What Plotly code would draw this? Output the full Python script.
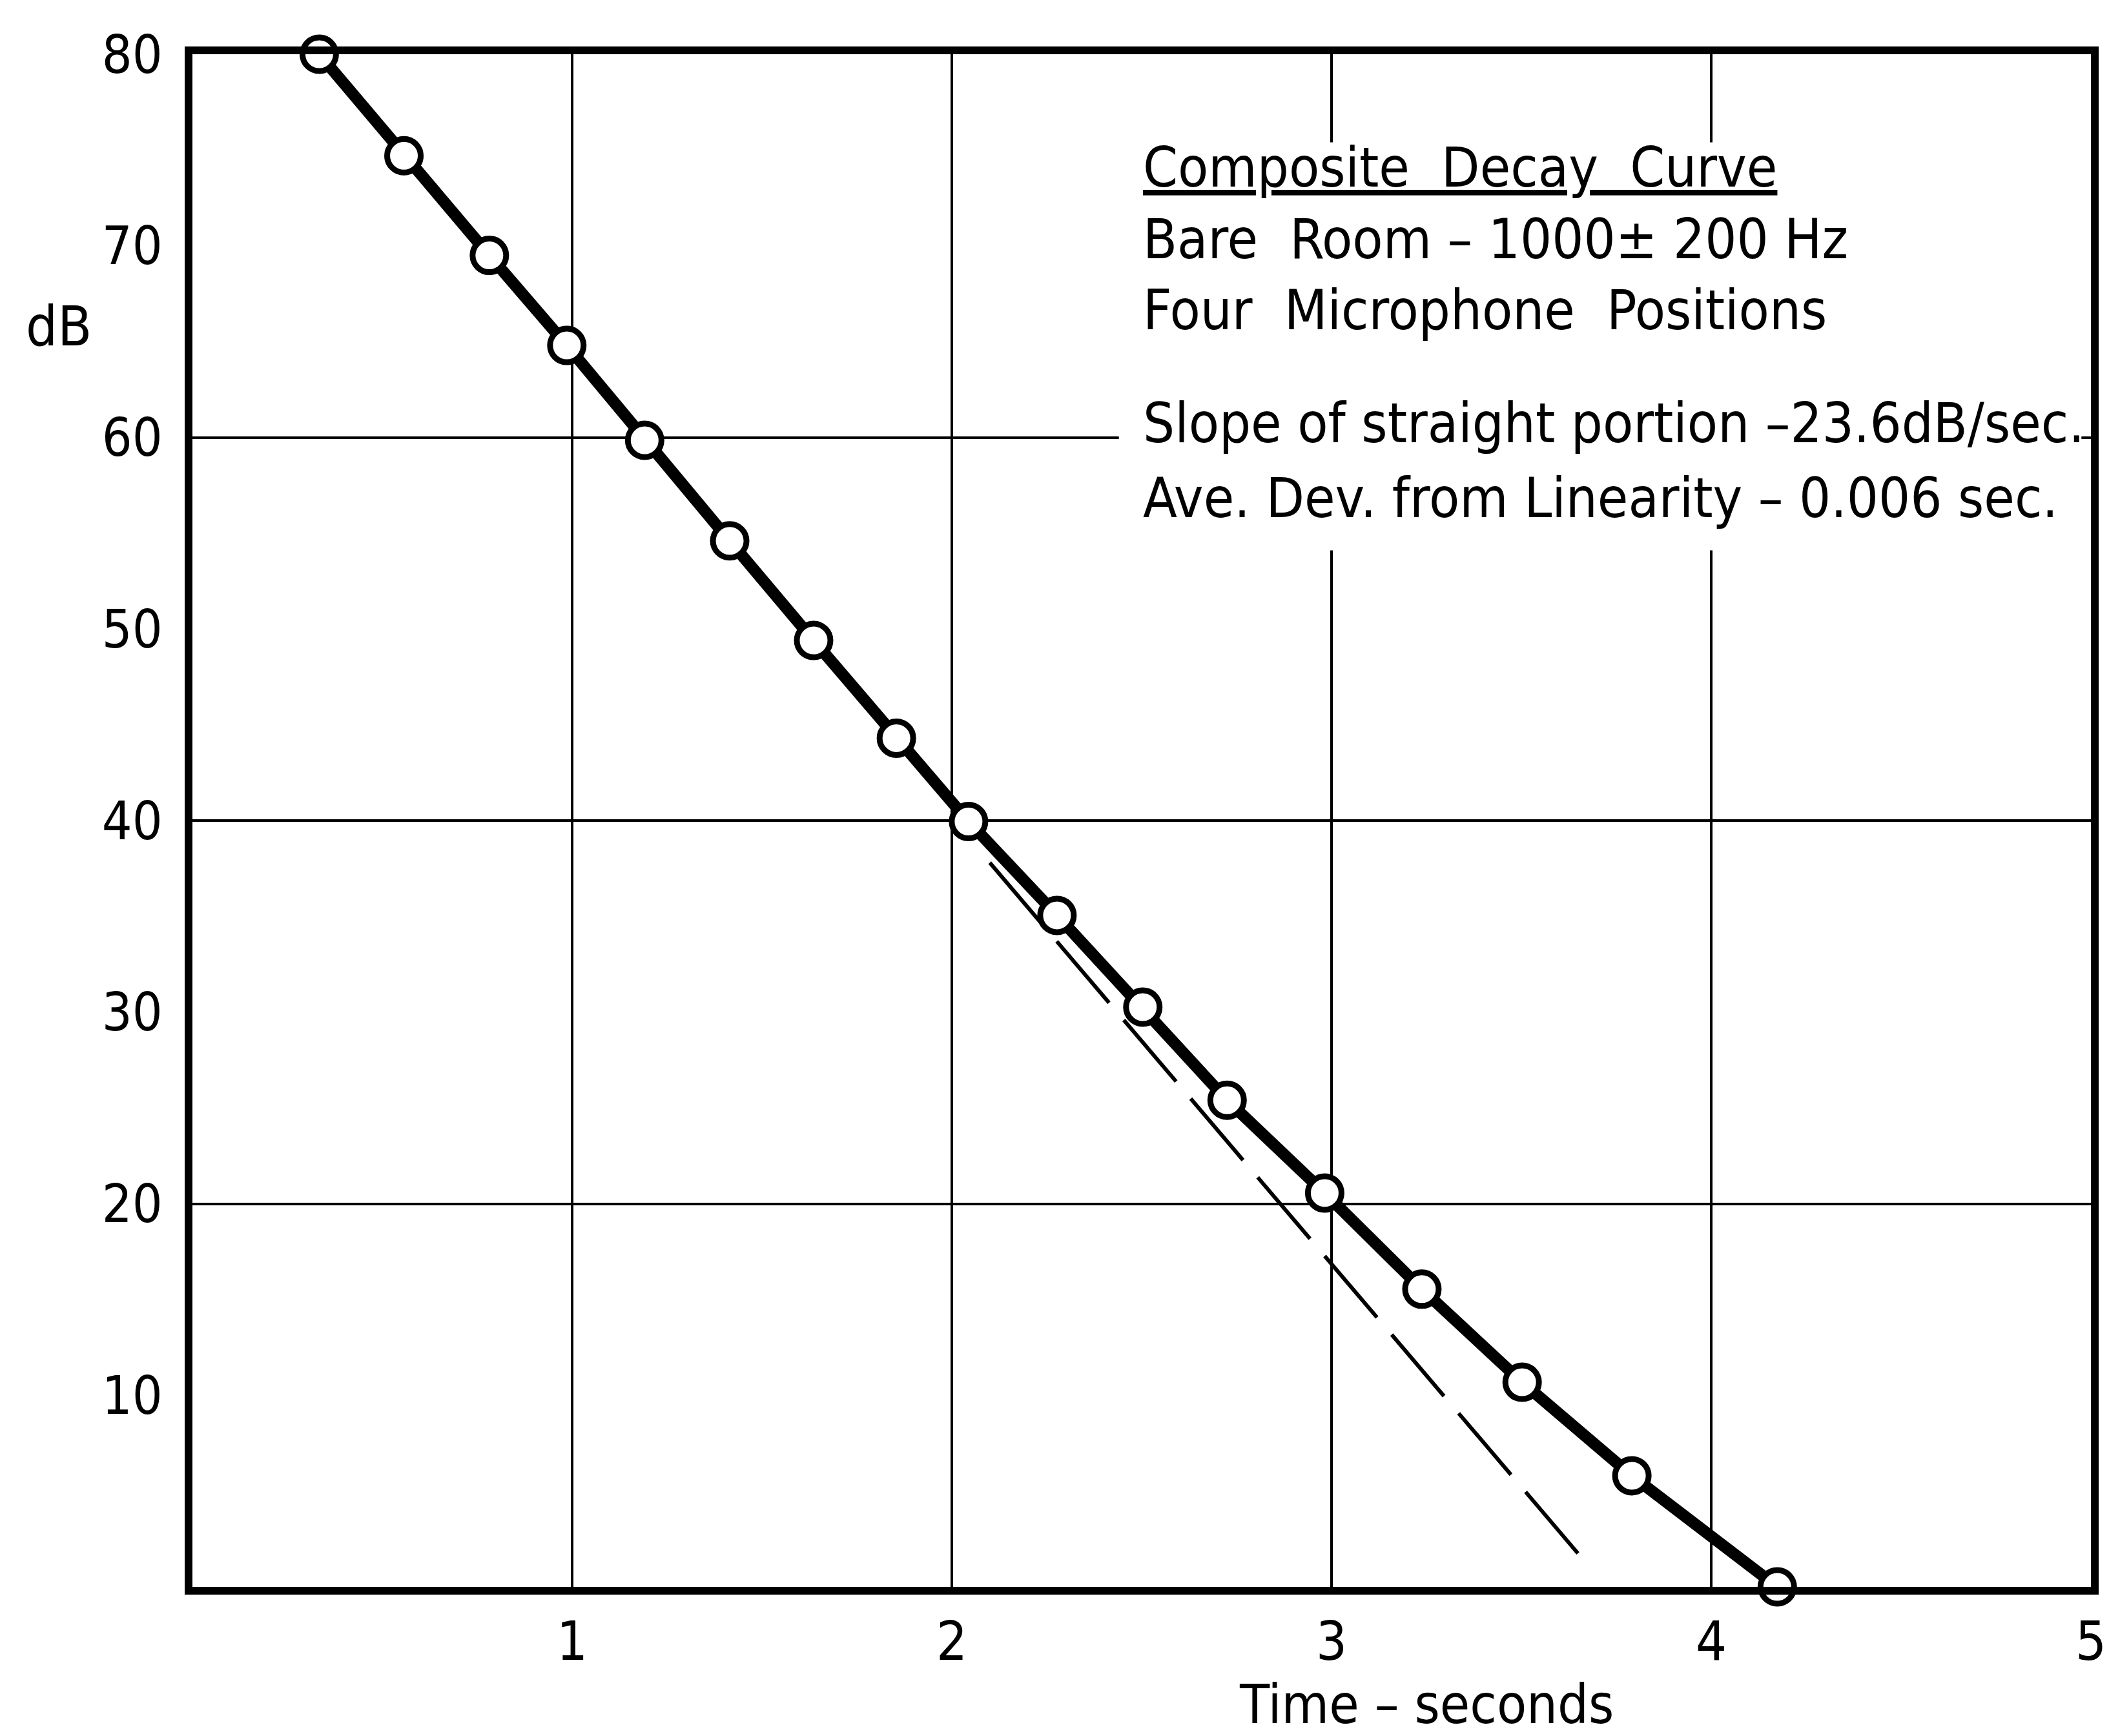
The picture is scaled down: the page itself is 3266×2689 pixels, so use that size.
import plotly.graph_objects as go

# ---- data ----
time_s = [0.334, 0.557, 0.782, 0.986, 1.191, 1.415, 1.636, 1.854, 2.044,
          2.277, 2.503, 2.725, 2.982, 3.238, 3.502, 3.791, 4.174]
level_db = [80.0, 74.7, 69.5, 64.8, 59.85, 54.6, 49.4, 44.3, 39.95,
            35.05, 30.26, 25.4, 20.56, 15.54, 10.68, 5.8, 0.0]

fit_time = [2.10, 3.673]
fit_db = [37.8, 1.19]

x_ticks = [1, 2, 3, 4, 5]
y_ticks = [10, 20, 30, 40, 50, 60, 70, 80]
y_grid = [20, 40, 60]

note_lines = [
    "<u>Composite  Decay  Curve</u>",
    "Bare  Room – 1000± 200 Hz",
    "Four  Microphone  Positions",
    "Slope of straight portion –23.6dB/sec.",
    "Ave. Dev. from Linearity – 0.006 sec.",
]
note_y = [74.1, 70.35, 66.65, 60.75, 56.85]

FONT = "DejaVu Sans Condensed, Liberation Sans Narrow, DejaVu Sans, sans-serif"

fig = go.Figure()

fig.add_trace(go.Scatter(
    x=fit_time, y=fit_db, mode="lines",
    line=dict(color="black", width=6, dash="125px,35px"),
    showlegend=False, hoverinfo="skip",
))

fig.add_trace(go.Scatter(
    x=time_s, y=level_db, mode="lines+markers",
    line=dict(color="black", width=18),
    marker=dict(symbol="circle", size=52, color="white",
                line=dict(color="black", width=9)),
    cliponaxis=False, showlegend=False,
))

# white patch behind the text block (gridlines are broken there in the original)
fig.add_shape(type="rect", xref="x", yref="y", x0=2.44, x1=4.975, y0=54.1, y1=75.4,
              fillcolor="white", line=dict(width=0), layer="above")

for txt, yv in zip(note_lines, note_y):
    fig.add_annotation(x=2.5, y=yv, xref="x", yref="y", text=txt,
                       showarrow=False, xanchor="left", yanchor="middle",
                       font=dict(family=FONT, size=86, color="black"))

fig.add_annotation(x=-0.0703, y=65.8, xref="paper", yref="y", text="dB",
                   showarrow=False, xanchor="center", yanchor="middle",
                   font=dict(family=FONT, size=86, color="black"))

fig.add_annotation(x=3.25, y=(2689 - 239 - 2632) / (2689 - 76 - 239),
                   xref="x", yref="paper", text="Time – seconds",
                   showarrow=False, xanchor="center", yanchor="middle",
                   font=dict(family=FONT, size=84, color="black"))

fig.update_layout(
    width=3266, height=2689,
    margin=dict(l=290, r=33, t=76, b=239),
    paper_bgcolor="white", plot_bgcolor="white",
    font=dict(family=FONT, size=86, color="black"),
    xaxis=dict(range=[0, 5], tickmode="array", tickvals=x_ticks,
               ticktext=[str(v) for v in x_ticks],
               showline=True, linecolor="black", linewidth=12, mirror=True,
               showgrid=True, gridcolor="black", gridwidth=4,
               ticks="", ticklabelstandoff=0, zeroline=False,
               tickfont=dict(family=FONT, size=84)),
    yaxis=dict(range=[0, 80], tickmode="array", tickvals=y_ticks,
               ticktext=[str(v) for v in y_ticks],
               showline=True, linecolor="black", linewidth=12, mirror=True,
               showgrid=False, ticks="", ticklabelstandoff=18, zeroline=False,
               tickfont=dict(family=FONT, size=82),
               minor=dict(tickmode="array", tickvals=y_grid, showgrid=True,
                          gridcolor="black", gridwidth=4, ticks="")),
)

fig.write_html("out.html")
